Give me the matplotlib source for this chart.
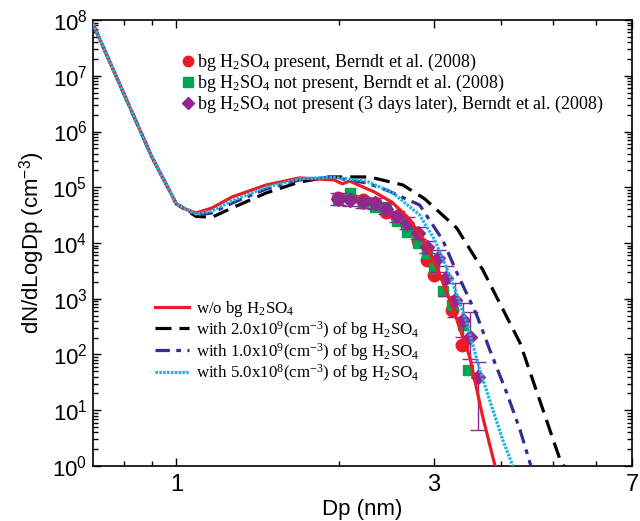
import matplotlib
matplotlib.use("Agg")
import matplotlib.pyplot as plt
from matplotlib.lines import Line2D
import numpy as np

plt.rcParams['font.family'] = ['Liberation Sans', 'DejaVu Sans']
plt.rcParams['mathtext.fontset'] = 'custom'
plt.rcParams['mathtext.rm'] = 'Liberation Serif'
plt.rcParams['mathtext.sf'] = 'Liberation Sans'
plt.rcParams['mathtext.it'] = 'Liberation Serif:italic'

# ---- model curves: diameter (nm) and dN/dLogDp (cm^-3) ----
dp_red = [0.70, 0.90, 1.00, 1.043, 1.087, 1.164, 1.268, 1.467, 1.690, 1.963, 2.03, 2.094,
          2.33, 2.51, 2.685, 2.86, 3.04, 3.25, 3.50, 3.70, 3.90]
n_red = [8.5e7, 3.5e5, 5.0e4, 4.0e4, 3.45e4, 4.25e4, 6.7e4, 1.1e5, 1.47e5, 1.35e5, 1.15e5, 1.29e5,
         8.2e4, 5.4e4, 2.9e4, 1.23e4, 3.7e3, 7.1e2, 9.0e1, 7.6, 1.0]

dp_black = [0.70, 0.90, 1.00, 1.087, 1.164, 1.268, 1.467, 1.690, 1.921, 2.28, 2.63, 2.887,
            3.31, 3.70, 4.34, 4.72, 5.15, 5.28]
n_black = [8.5e7, 3.5e5, 5.0e4, 3.0e4, 2.9e4, 4.25e4, 7.9e4, 1.24e5, 1.53e5, 1.53e5, 1.1e5, 6.2e4,
           1.86e4, 3.3e3, 1.6e2, 1.5e1, 1.28, 0.85]

dp_navy = [0.70, 0.90, 1.00, 1.087, 1.164, 1.268, 1.467, 1.690, 1.946, 2.252, 2.453, 2.826,
           3.118, 3.31, 3.606, 3.814, 4.10, 4.34, 4.545]
n_navy = [8.5e7, 3.5e5, 5.0e4, 3.18e4, 3.45e4, 5.2e4, 9.3e4, 1.35e5, 1.52e5, 1.19e5, 8.9e4, 4.8e4,
          1.13e4, 3.0e3, 5.1e2, 1.2e2, 2.04e1, 4.4, 1.0]

dp_cyan = [0.70, 0.90, 1.00, 1.087, 1.164, 1.268, 1.467, 1.690, 1.946, 2.252, 2.517, 2.826,
           3.013, 3.24, 3.456, 3.653, 3.863, 4.032, 4.208]
n_cyan = [8.5e7, 3.5e5, 5.0e4, 3.3e4, 3.75e4, 5.7e4, 1.0e5, 1.41e5, 1.52e5, 1.29e5, 8.0e4, 3.18e4,
          1.13e4, 2.17e3, 3.67e2, 5.3e1, 1.01e1, 2.9, 1.0]

# ---- measurements (Berndt et al., 2008) ----
dp_present = [1.99, 2.10, 2.22, 2.34, 2.45, 2.57, 2.68, 2.80, 2.91, 3.01, 3.25, 3.38]
n_present = [6.4e4, 6.4e4, 5.9e4, 5.2e4, 3.6e4, 2.9e4, 2.0e4, 1.1e4, 5.0e3, 2.7e3, 6.3e2, 1.48e2]

dp_absent = [1.99, 2.10, 2.22, 2.34, 2.45, 2.57, 2.68, 2.80, 2.91, 3.01, 3.12, 3.25, 3.40, 3.48]
n_absent = [6.0e4, 7.9e4, 5.2e4, 4.4e4, 4.4e4, 2.5e4, 1.57e4, 1.0e4, 6.6e3, 3.6e3, 1.4e3, 7.7e2,
            3.4e2, 5.3e1]

dp_later = [1.99, 2.10, 2.22, 2.34, 2.45, 2.57, 2.68, 2.80, 2.91, 3.05, 3.16, 3.28, 3.40, 3.50, 3.62]
n_later = [6.2e4, 5.9e4, 5.4e4, 5.2e4, 4.1e4, 3.05e4, 2.3e4, 1.5e4, 8.5e3, 5.3e3, 2.4e3, 9.5e2,
           4.15e2, 2.06e2, 4.0e1]
n_later_lo = [4.9e4, 4.7e4, 4.3e4, 4.1e4, 3.3e4, 2.4e4, 1.8e4, 1.2e4, 6.5e3, 3.0e3, 1.1e3, 4.8e2,
              2.1e2, 8.2e1, 4.4]
n_later_hi = [7.8e4, 7.4e4, 6.8e4, 6.5e4, 5.2e4, 3.8e4, 2.9e4, 1.9e4, 1.1e4, 7.5e3, 3.8e3, 1.9e3,
              8.3e2, 5.8e2, 7.3e1]

x_major = [1, 3, 7]
x_minor = [0.8, 0.9, 2, 4, 5, 6]

RED = '#ED1C24'
GREEN = '#00A651'
PURPLE = '#92278F'
NAVY = '#2E3192'
CYAN = '#1CB5E3'

fig = plt.figure(figsize=(6.4, 5.21), dpi=100)
ax = fig.add_axes([0.1453, 0.1056, 0.8422, 0.8560])
ax.set_xscale('log')
ax.set_yscale('log')

# measured points (under the model lines)
ax.plot(dp_present, n_present, 'o', color=RED, ms=9, mec=RED, zorder=2)
ax.plot(dp_absent, n_absent, 's', color=GREEN, ms=7.5, mec=GREEN, zorder=2.1)
n_later_arr = np.array(n_later)
yerr = [n_later_arr - np.array(n_later_lo), np.array(n_later_hi) - n_later_arr]
ax.errorbar(dp_later, n_later, yerr=yerr, fmt='D', color=PURPLE, ms=7, mec=PURPLE,
            ecolor=PURPLE, elinewidth=1.0, capsize=6, capthick=1.0, zorder=2.2)

# model curves
ax.plot(dp_black, n_black, color='black', lw=2.3, dashes=(5, 2.5), zorder=3)
ax.plot(dp_navy, n_navy, color=NAVY, lw=2.3, dashes=(4.5, 2, 1.5, 2), zorder=3.1)
ax.plot(dp_red, n_red, color=RED, lw=2.3, zorder=3.2)
ax.plot(dp_cyan, n_cyan, color=CYAN, lw=2.3, dashes=(0.8, 0.4), zorder=3.3)

ax.set_xlim(0.7, 7)
ax.set_ylim(1, 1e8)

ax.set_xticks(x_major)
ax.set_xticklabels([str(v) for v in x_major])
ax.set_xticks(x_minor, minor=True)
ax.set_xticklabels([], minor=True)
ax.set_yticks([10.0 ** k for k in range(0, 9)])
ax.set_yticklabels([r'$\mathsf{10^{%d}}$' % k for k in range(0, 9)])
ax.yaxis.set_minor_locator(matplotlib.ticker.LogLocator(base=10, subs=np.arange(2, 10), numticks=20))
ax.yaxis.set_minor_formatter(matplotlib.ticker.NullFormatter())

ax.tick_params(which='both', direction='in', top=True, right=True, width=1.0)
ax.tick_params(which='major', length=6)
ax.tick_params(which='minor', length=3.5)
ax.tick_params(axis='y', which='major', labelsize=16, pad=4)
ax.tick_params(axis='x', which='major', labelsize=17, pad=6)
for s in ax.spines.values():
    s.set_linewidth(1.2)

ax.set_xlabel('Dp (nm)', fontsize=16, labelpad=2)
ax.set_ylabel(r'dN/dLogDp (cm$^{\mathsf{-3}}$)', fontsize=16, labelpad=4)

# legend for measurements
h_meas = [
    Line2D([], [], ls='none', marker='o', color=RED, ms=7.5),
    Line2D([], [], ls='none', marker='s', color=GREEN, ms=6.5),
    Line2D([], [], ls='none', marker='D', color=PURPLE, ms=6),
]
l_meas = [
    r'bg H$_2$SO$_4$ present, Berndt et al. (2008)',
    r'bg H$_2$SO$_4$ not present, Berndt et al. (2008)',
    r'bg H$_2$SO$_4$ not present (3 days later), Berndt et al. (2008)',
]
leg1 = ax.legend(h_meas, l_meas, loc='upper left', bbox_to_anchor=(0.166, 0.928),
                 frameon=False, handlelength=0.6, handletextpad=0.2, labelspacing=0.0,
                 borderpad=0, borderaxespad=0, prop={'family': 'Liberation Serif', 'size': 13.0})
ax.add_artist(leg1)

h_model = [
    Line2D([], [], color=RED, lw=2.3),
    Line2D([], [], color='black', lw=2.3, dashes=(5, 2.5)),
    Line2D([], [], color=NAVY, lw=2.3, dashes=(4.5, 2, 1.5, 2)),
    Line2D([], [], color=CYAN, lw=2.3, dashes=(0.8, 0.4)),
]
l_model = [
    r'w/o bg H$_2$SO$_4$',
    r'with 2.0x10$^9$(cm$^{-3}$) of bg H$_2$SO$_4$',
    r'with 1.0x10$^9$(cm$^{-3}$) of bg H$_2$SO$_4$',
    r'with 5.0x10$^8$(cm$^{-3}$) of bg H$_2$SO$_4$',
]
ax.legend(h_model, l_model, loc='upper left', bbox_to_anchor=(0.115, 0.375),
          frameon=False, handlelength=2.0, handletextpad=0.45, labelspacing=0.0,
          borderpad=0, borderaxespad=0, prop={'family': 'Liberation Serif', 'size': 12.2})

fig.savefig('out.png', dpi=100)
